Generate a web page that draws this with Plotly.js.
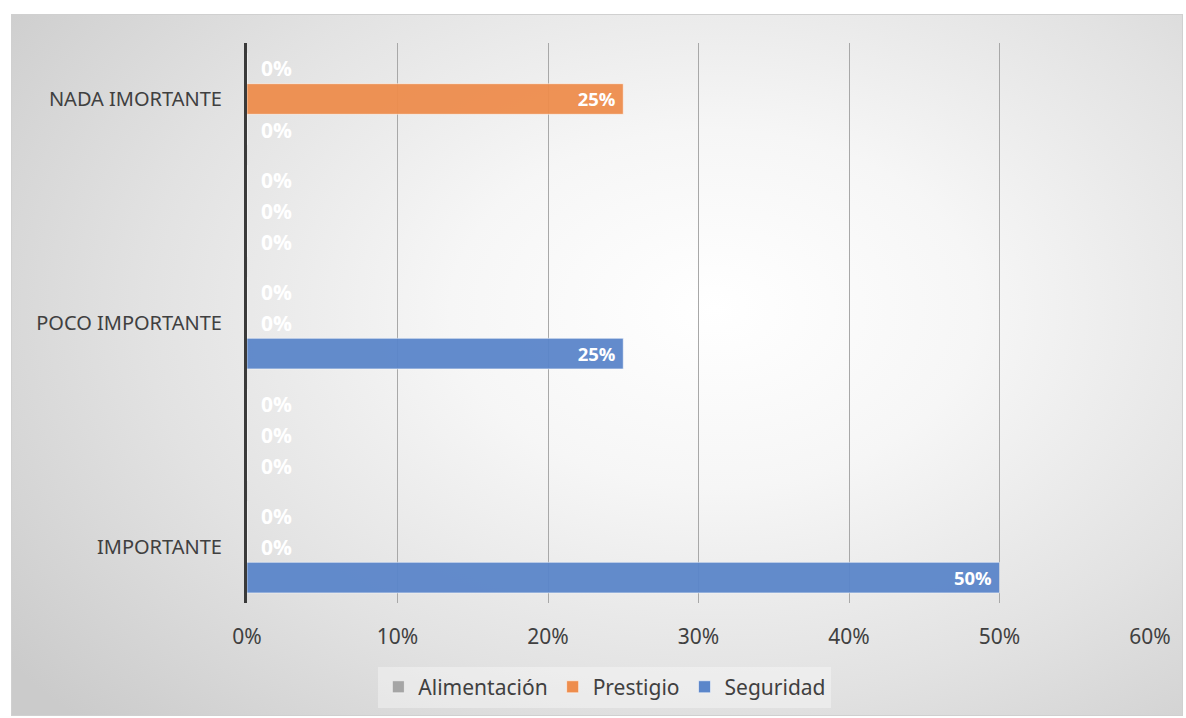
<!DOCTYPE html>
<html>
<head>
<meta charset="utf-8">
<script src="https://cdn.plot.ly/plotly-3.0.1.min.js"></script>
<style>
  html, body { margin: 0; padding: 0; width: 1186px; height: 718px; background: #ffffff; overflow: hidden; }
  #bg { position: absolute; left: 11px; top: 14px; width: 1172px; height: 702px; box-sizing: border-box;
        border: 1px solid #d0d0d0;
        background: radial-gradient(ellipse 75% 85% at 60% 42%, #ffffff 0%, #f6f6f6 30%, #e2e2e2 65%, #cbcbcb 100%); }
  #chart { position: absolute; left: 0; top: 0; width: 1186px; height: 718px; }
</style>
</head>
<body>
<div id="bg"></div>
<div id="chart"></div>
<script>
// Categories, bottom to top (only every other one is labelled in the reference)
const categories = ["IMPORTANTE", "MEDIANAMENTE IMPORTANTE", "POCO IMPORTANTE", "MUY POCO IMPORTANTE", "NADA IMORTANTE"];
const labelledCategories = ["IMPORTANTE", "POCO IMPORTANTE", "NADA IMORTANTE"];

const seguridad    = [0.50, 0, 0.25, 0, 0];
const prestigio    = [0, 0, 0, 0, 0.25];
const alimentacion = [0, 0, 0, 0, 0];

const xTickVals = [0, 0.1, 0.2, 0.3, 0.4, 0.5, 0.6];

const labelFont = { family: 'Open Sans, sans-serif', size: 21, color: '#ffffff', weight: 'bold' };

function makeTrace(name, values, color) {
  return {
    type: 'bar',
    orientation: 'h',
    name: name,
    y: categories,
    x: values,
    marker: { color: color, opacity: 0.95, line: { color: 'rgba(255,255,255,0.55)', width: 1 } },
    texttemplate: values.map(v => v > 0 ? '%{x:.0%}\u00a0' : '\u00a0\u00a0%{x:.0%}'),
    textposition: values.map(v => v > 0 ? 'inside' : 'outside'),
    insidetextanchor: 'end',
    textfont: labelFont,
    outsidetextfont: labelFont,
    insidetextfont: labelFont,
    cliponaxis: false,
    hoverinfo: 'x+name'
  };
}

const data = [
  makeTrace('Seguridad', seguridad, '#5B86CA'),
  makeTrace('Prestigio', prestigio, '#EE8D4D'),
  makeTrace('Alimentación', alimentacion, '#A5A5A5')
];

const layout = {
  width: 1186,
  height: 718,
  paper_bgcolor: 'rgba(0,0,0,0)',
  plot_bgcolor: 'rgba(0,0,0,0)',
  margin: { l: 247, r: 36, t: 43, b: 115, autoexpand: false },
  barmode: 'group',
  bargap: 0.18,
  bargroupgap: 0,
  font: { family: 'Noto Sans, sans-serif', size: 20, color: '#404040' },
  xaxis: {
    range: [0, 0.6],
    tickvals: xTickVals,
    tickformat: '.0%',
    showgrid: true,
    gridcolor: '#a8a8a8',
    gridwidth: 1,
    zeroline: false,
    showline: false,
    ticks: '',
    ticklabelstandoff: 19,
    tickfont: { family: 'Noto Sans, sans-serif', size: 21, color: '#404040' },
    automargin: false,
    fixedrange: true
  },
  yaxis: {
    type: 'category',
    categoryorder: 'array',
    categoryarray: categories,
    tickvals: labelledCategories,
    ticktext: labelledCategories,
    showgrid: false,
    zeroline: false,
    showline: true,
    linecolor: '#3a3a3a',
    linewidth: 3,
    ticks: '',
    ticklabelstandoff: 18,
    tickfont: { family: 'Noto Sans, sans-serif', size: 20, color: '#404040' },
    automargin: false,
    fixedrange: true
  },
  showlegend: true,
  legend: {
    orientation: 'h',
    traceorder: 'reversed',
    xref: 'container',
    yref: 'container',
    x: 0.51,
    xanchor: 'center',
    y: 0.043,
    yanchor: 'middle',
    bgcolor: 'rgba(255,255,255,0.35)',
    font: { family: 'Noto Sans, sans-serif', size: 21, color: '#404040' },
    itemwidth: 30,
    tracegroupgap: 0
  }
};

Plotly.newPlot('chart', data, layout, { displayModeBar: false, staticPlot: true });
</script>
</body>
</html>
